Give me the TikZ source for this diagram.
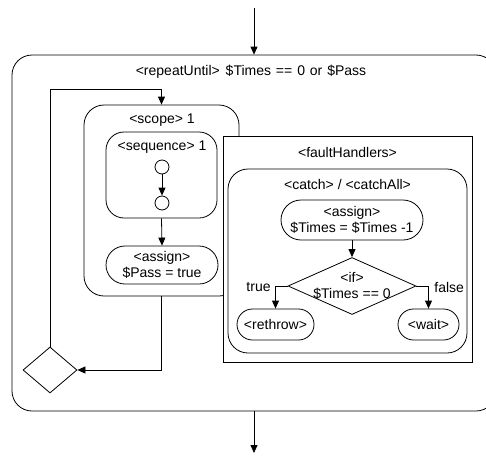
\documentclass[tikz,border=0pt]{standalone}
\usepackage{fontspec}
\setmainfont{Liberation Sans}
\usetikzlibrary{shapes.geometric,arrows.meta}
\begin{document}
\begin{tikzpicture}[x=1pt,y=-1pt,
  line width=0.8pt,
  every node/.style={font=\fontsize{14}{16}\selectfont, inner sep=0pt, align=center},
  box/.style={draw, rounded corners=#1, fill=white},
  pill/.style={draw, rounded corners=#1, fill=white},
  plainbox/.style={draw, fill=white},
  gate/.style={draw, diamond, fill=white},
  dot/.style={draw, circle, minimum size=14pt, fill=white},
  arr/.style={-{Triangle[length=8pt,width=7pt]}}
]
\useasboundingbox (0,0) rectangle (486,455);
\clip (0,0) rectangle (486,455);

% outer repeatUntil loop
\node[box=20pt, minimum width=484pt, minimum height=356pt] (repeat) at (254,233) {};
\node (repeatlbl) at (251,72) {<repeatUntil>\hspace{2pt} \$Times\hspace{1pt} ==\hspace{1pt} 0\hspace{1pt} or\hspace{1pt} \$Pass};
\coordinate (in) at (254,8);
\coordinate (out) at (254,453);
\draw[arr] (in) -- (repeat.north);
\draw[arr] (repeat.south) -- (out);

% scope with its sequence
\node[box=20pt, minimum width=155pt, minimum height=191pt] (scope) at (161.5,200.5) {};
\node (scopelbl) at (162,120) {<scope> 1};
\node[box=18pt, minimum width=111pt, minimum height=86pt] (seq) at (161.5,175) {};
\node (seqlbl) at (162,147) {<sequence> 1};
\node[dot] (c1) at (162,167) {};
\node[dot] (c2) at (162,203) {};
\draw[arr] (c1) -- (c2);
\node[pill=19pt, minimum width=112pt, minimum height=38pt] (setpass) at (162,265) {<assign>\\\$Pass = true};
\draw[arr] (seq.south) -- (setpass.north);

% loop condition
\node[gate, minimum width=54pt, minimum height=46pt] (cond) at (50,370) {};
\draw[arr] (cond.north) -- (cond.north |- 0,89) -| (scope.north);
\draw[arr] (scope.south) |- (cond.east);

% fault handlers
\node[plainbox, minimum width=249pt, minimum height=226pt] (fault) at (347.5,249) {};
\node (faultlbl) at (347.5,152) {<faultHandlers>};
\node[box=20pt, minimum width=239pt, minimum height=184pt] (catch) at (347.5,261) {};
\node (catchlbl) at (347.5,184) {<catch> / <catchAll>};
\node[pill=20pt, minimum width=142pt, minimum height=40pt] (dec) at (352,220) {<assign>\\\$Times = \$Times -1};
\node[gate, minimum width=128pt, minimum height=57pt] (ifgate) at (352,286) {};
\node (iflbl) at (352,286) {<if>\\\$Times == 0};
\draw[arr] (dec.south) -- (ifgate.north);
\node[pill=15.5pt, minimum width=77pt, minimum height=31pt] (rethrow) at (275.5,324.5) {<rethrow>};
\node[pill=15.5pt, minimum width=61pt, minimum height=31pt] (wait) at (428.5,324.5) {<wait>};
\draw[arr] (ifgate.west) -| (rethrow.north);
\draw[arr] (ifgate.east) -| (wait.north);
\node[anchor=east] (truelbl) at (271,287) {true};
\node[anchor=west] (falselbl) at (434,287) {false};
\end{tikzpicture}
\end{document}
